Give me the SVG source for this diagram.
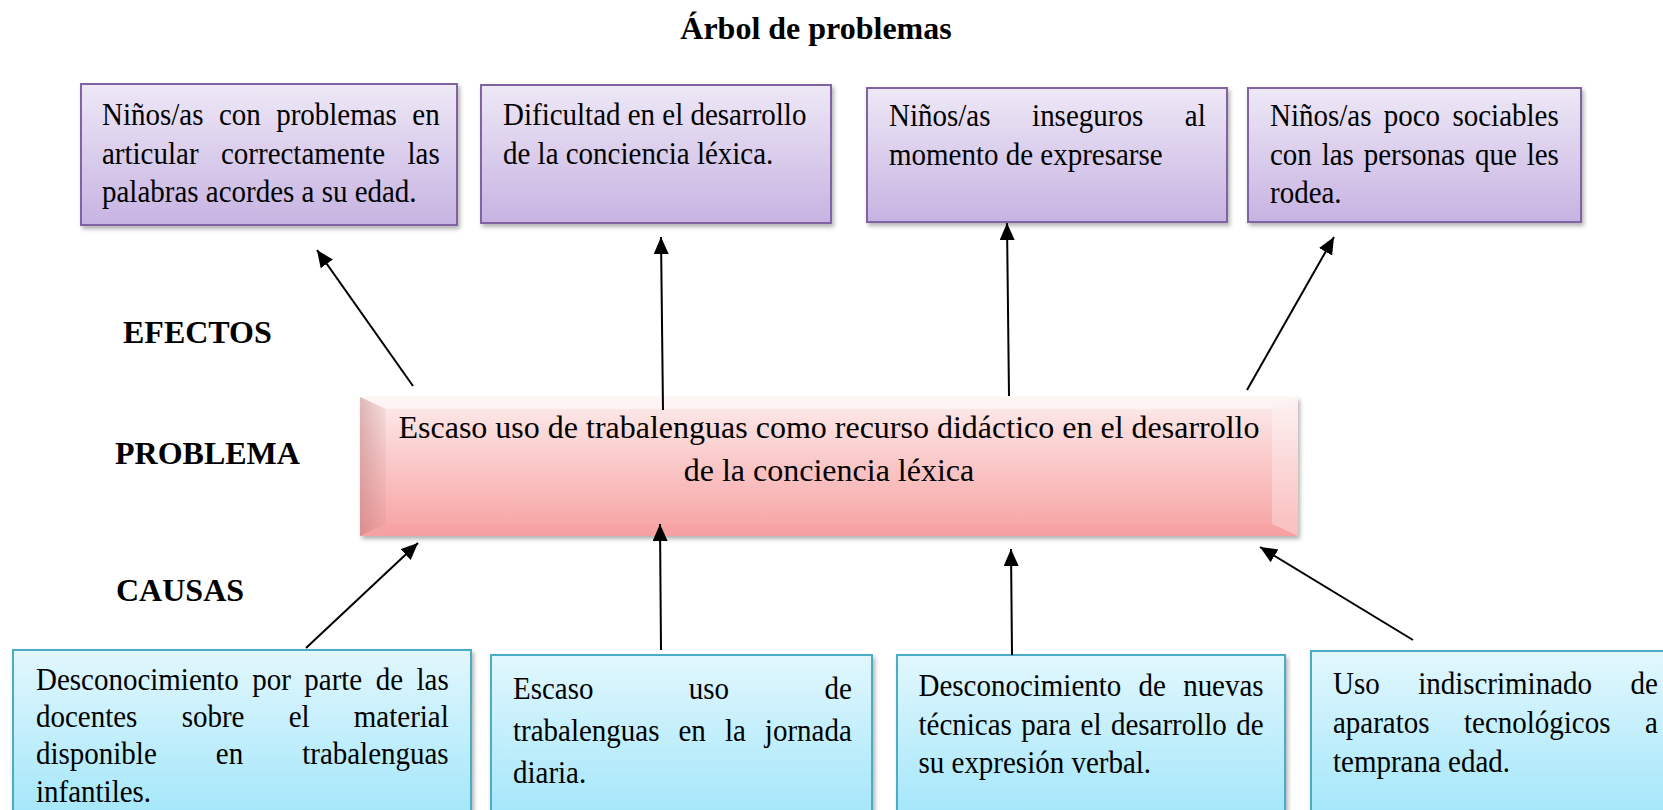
<svg xmlns="http://www.w3.org/2000/svg" width="1663" height="810" viewBox="0 0 1663 810">
<style>
.t{font-family:"Liberation Serif","Times New Roman",serif;font-size:32px;fill:#000}
.h{font-family:"Liberation Serif","Times New Roman",serif;font-size:32px;font-weight:bold;fill:#000}
.p{font-family:"Liberation Serif","Times New Roman",serif;font-size:32px;fill:#000;text-anchor:middle}
.eff{fill:url(#gPurple);stroke:#8064a2;stroke-width:2;filter:url(#sh)}
.cau{fill:url(#gCyan);stroke:#4bacc6;stroke-width:2;filter:url(#sh)}
.arr{stroke:#000;stroke-width:2;fill:none;marker-end:url(#ah)}
</style>
<defs>
<linearGradient id="gPurple" x1="0" y1="0" x2="0" y2="1">
<stop offset="0" stop-color="#eee8f6"/>
<stop offset="1" stop-color="#c7b3e2"/>
</linearGradient>
<linearGradient id="gCyan" x1="0" y1="0" x2="0" y2="1">
<stop offset="0" stop-color="#e2f7fd"/>
<stop offset="1" stop-color="#a2e6fa"/>
</linearGradient>
<linearGradient id="gPink" x1="0" y1="0" x2="0" y2="1">
<stop offset="0" stop-color="#fdeded"/>
<stop offset="0.5" stop-color="#fac6c6"/>
<stop offset="1" stop-color="#f7a2a2"/>
</linearGradient>
<linearGradient id="gLeft" x1="0" y1="0" x2="1" y2="0">
<stop offset="0" stop-color="#b87777" stop-opacity="0.45"/>
<stop offset="1" stop-color="#b87777" stop-opacity="0.1"/>
</linearGradient>
<filter id="sh" x="-5%" y="-10%" width="115%" height="130%">
<feDropShadow dx="2" dy="3" stdDeviation="2" flood-color="#000" flood-opacity="0.3"/>
</filter>
<marker id="ah" markerUnits="userSpaceOnUse" markerWidth="18" markerHeight="16" refX="17" refY="7.5" orient="auto">
<path d="M0,0 L17,7.5 L0,15 z" fill="#000"/>
</marker>
</defs>

<text class="h" x="816" y="39" text-anchor="middle">Árbol de problemas</text>
<text class="h" x="123" y="343">EFECTOS</text>
<text class="h" x="115" y="464">PROBLEMA</text>
<text class="h" x="116" y="601">CAUSAS</text>

<g id="efecto1">
<rect class="eff" x="81" y="84" width="376" height="141"/>
<text class="t" transform="matrix(0.90625 0 0 1 102 125)" style="word-spacing:9.05px">Niños/as con problemas en</text>
<text class="t" transform="matrix(0.90625 0 0 1 102 163.5)" style="word-spacing:16.77px">articular correctamente las</text>
<text class="t" transform="matrix(0.90625 0 0 1 102 202)">palabras acordes a su edad.</text>
</g>
<g id="efecto2">
<rect class="eff" x="481" y="85" width="350" height="138"/>
<text class="t" transform="matrix(0.90625 0 0 1 503 125)">Dificultad en el desarrollo</text>
<text class="t" transform="matrix(0.90625 0 0 1 503 163.5)">de la conciencia léxica.</text>
</g>
<g id="efecto3">
<rect class="eff" x="867" y="88" width="360" height="134"/>
<text class="t" transform="matrix(0.90625 0 0 1 889 126)" style="word-spacing:37.96px">Niños/as inseguros al</text>
<text class="t" transform="matrix(0.90625 0 0 1 889 164.5)">momento de expresarse</text>
</g>
<g id="efecto4">
<rect class="eff" x="1248" y="88" width="333" height="134"/>
<text class="t" transform="matrix(0.90625 0 0 1 1270 126)" style="word-spacing:5.63px">Niños/as poco sociables</text>
<text class="t" transform="matrix(0.90625 0 0 1 1270 164.5)" style="word-spacing:2.87px">con las personas que les</text>
<text class="t" transform="matrix(0.90625 0 0 1 1270 203)">rodea.</text>
</g>

<g id="problema">
<rect x="360" y="397" width="938" height="139" fill="url(#gPink)" filter="url(#sh)"/>
<polygon points="360,397 1298,397 1272,409 386,409" fill="#fff" fill-opacity="0.45"/>
<polygon points="360,397 386,409 386,524 360,536" fill="url(#gLeft)"/>
<polygon points="1298,397 1272,409 1272,524 1298,536" fill="#fff" fill-opacity="0.3"/>
<polygon points="360,536 386,524 1272,524 1298,536" fill="#f39c9c" fill-opacity="0.25"/>
<text class="p" x="829" y="438">Escaso uso de trabalenguas como recurso didáctico en el desarrollo</text>
<text class="p" x="829" y="481">de la conciencia léxica</text>
</g>

<g id="causa1">
<rect class="cau" x="13" y="650" width="458" height="170"/>
<text class="t" transform="matrix(0.90625 0 0 1 36 690)" style="word-spacing:6.84px">Desconocimiento por parte de las</text>
<text class="t" transform="matrix(0.90625 0 0 1 36 727)" style="word-spacing:40.83px">docentes sobre el material</text>
<text class="t" transform="matrix(0.90625 0 0 1 36 764)" style="word-spacing:57.16px">disponible en trabalenguas</text>
<text class="t" transform="matrix(0.90625 0 0 1 36 802)">infantiles.</text>
</g>
<g id="causa2">
<rect class="cau" x="491" y="655" width="381" height="165"/>
<text class="t" transform="matrix(0.90625 0 0 1 513 699)" style="word-spacing:97.21px">Escaso uso de</text>
<text class="t" transform="matrix(0.90625 0 0 1 513 741)" style="word-spacing:13.02px">trabalenguas en la jornada</text>
<text class="t" transform="matrix(0.90625 0 0 1 513 783)">diaria.</text>
</g>
<g id="causa3">
<rect class="cau" x="897" y="655" width="388" height="165"/>
<text class="t" transform="matrix(0.90625 0 0 1 918.5 696)" style="word-spacing:11.03px">Desconocimiento de nuevas</text>
<text class="t" transform="matrix(0.90625 0 0 1 918.5 734.5)" style="word-spacing:2.43px">técnicas para el desarrollo de</text>
<text class="t" transform="matrix(0.90625 0 0 1 918.5 773)">su expresión verbal.</text>
</g>
<g id="causa4">
<rect class="cau" x="1311" y="651" width="370" height="169"/>
<text class="t" transform="matrix(0.90625 0 0 1 1333 694)" style="word-spacing:34.43px">Uso indiscriminado de</text>
<text class="t" transform="matrix(0.90625 0 0 1 1333 733)" style="word-spacing:30.01px">aparatos tecnológicos a</text>
<text class="t" transform="matrix(0.90625 0 0 1 1333 772)">temprana edad.</text>
</g>

<g id="connectors">
<line class="arr" x1="413" y1="386" x2="317" y2="250"/>
<line class="arr" x1="663" y1="410" x2="661" y2="237"/>
<line class="arr" x1="1009" y1="396" x2="1007" y2="223"/>
<line class="arr" x1="1247" y1="390" x2="1334" y2="237"/>
<line class="arr" x1="306" y1="648" x2="418" y2="543"/>
<line class="arr" x1="661" y1="650" x2="660" y2="524"/>
<line class="arr" x1="1012" y1="655" x2="1011" y2="549"/>
<line class="arr" x1="1413" y1="640" x2="1260" y2="547"/>
</g>
</svg>
